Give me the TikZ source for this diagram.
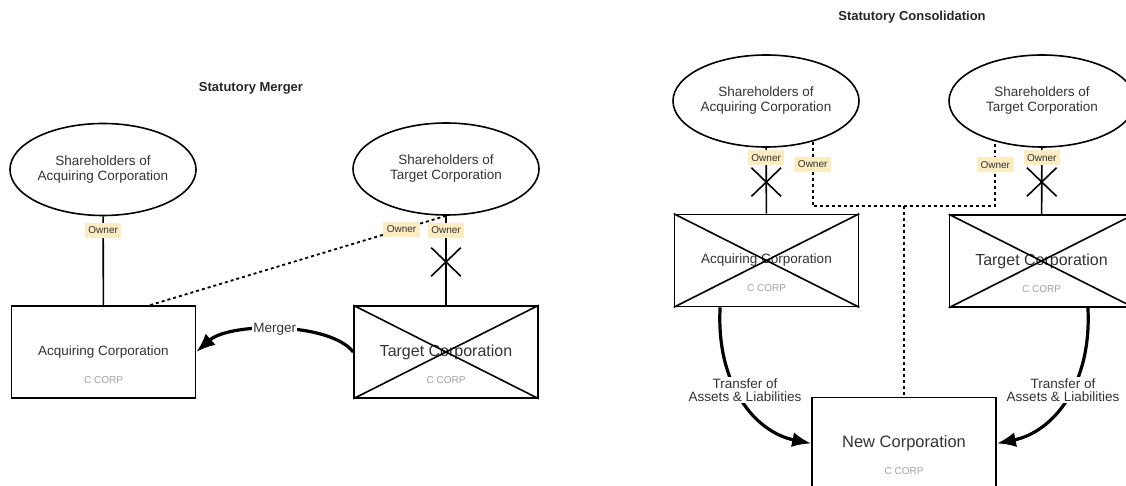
\documentclass[tikz,border=0pt]{standalone}
\usepackage{fontspec}
\setmainfont{Liberation Sans}
\usetikzlibrary{shapes.geometric,shapes.misc,arrows.meta,calc}
\definecolor{ownerbg}{RGB}{251,236,193}
\definecolor{txt}{RGB}{51,51,51}
\definecolor{ccgrey}{RGB}{160,160,160}
\begin{document}
\begin{tikzpicture}[x=1pt,y=-1pt,
  shbox/.style={ellipse, draw, line width=1.6pt, minimum width=186pt, minimum height=92pt, inner sep=0pt, align=center, text=txt, font=\fontsize{13.5}{15}\selectfont},
  corp/.style={rectangle, draw, line width=1.6pt, minimum width=184pt, minimum height=92pt, inner sep=0pt, text=txt, font=\fontsize{13.5}{15}\selectfont},
  bigname/.style={font=\fontsize{16}{18}\selectfont},
  ccorp/.style={text=ccgrey, font=\fontsize{10}{12}\selectfont, inner sep=0pt},
  owner/.style={fill=ownerbg, text=txt, font=\fontsize{10}{12}\selectfont, inner xsep=3.5pt, inner ysep=3.5pt, text height=7.5pt, text depth=0.5pt},
  own/.style={line width=1.6pt},
  dotline/.style={line width=1.8pt, dash pattern=on 3pt off 3pt},
  flow/.style={line width=3.2pt, -{Latex[length=19pt,width=15pt]}},
  flowlabel/.style={fill=white, text=txt, inner sep=1pt, align=center, font=\fontsize{13.5}{13.3}\selectfont},
  ttl/.style={font=\bfseries\fontsize{13}{15}\selectfont, text=black!85},
  xmark/.style={cross out, draw, line width=1.6pt, minimum width=28pt, minimum height=27pt, inner sep=0pt}
]
\useasboundingbox (0,0) rectangle (1126,486);
\clip (0,0) rectangle (1126,486);

% ---------------- Statutory Merger ----------------
\node[ttl] (t1) at (251,88) {Statutory Merger};
\node[shbox] (ashL) at (103,169.5) {Shareholders of\\Acquiring Corporation};
\node[shbox] (tshL) at (446,169) {Shareholders of\\Target Corporation};
\node[corp] (acqL) at (103.5,352) {Acquiring Corporation};
\node[ccorp] (ccL1) at ($(acqL.center)+(0,28)$) {C CORP};
\node[corp,bigname] (tgtL) at (446,352) {Target Corporation};
\node[ccorp] (ccL2) at ($(tgtL.center)+(0,28)$) {C CORP};
\draw[own] (tgtL.north west) -- (tgtL.south east) (tgtL.north east) -- (tgtL.south west);

\draw[own] (ashL) -- node[owner,pos=0.158]{Owner} (acqL);
\draw[own] (tshL) -- node[xmark,pos=0.516]{} node[owner,pos=0.16]{Owner} (tgtL);
\draw[dotline] (tshL.south) -- node[owner,pos=0.15]{Owner} ($(acqL.north west)!0.75!(acqL.north east)$);
\draw[flow] (tgtL.west) .. controls (330,322) and (230,322) .. (acqL.east)
  node[flowlabel,pos=0.52]{Merger};

% ---------------- Statutory Consolidation ----------------
\node[ttl] (t2) at (912,17) {Statutory Consolidation};
\node[shbox] (ashR) at (766,101) {Shareholders of\\Acquiring Corporation};
\node[shbox] (tshR) at (1042,101) {Shareholders of\\Target Corporation};
\node[corp] (acqR) at (766.5,260.5) {Acquiring Corporation};
\node[ccorp] (ccR1) at ($(acqR.center)+(0,28)$) {C CORP};
\node[corp,bigname] (tgtR) at (1041.5,261) {Target Corporation};
\node[ccorp] (ccR2) at ($(tgtR.center)+(0,28)$) {C CORP};
\draw[own] (acqR.north west) -- (acqR.south east) (acqR.north east) -- (acqR.south west);
\draw[own] (tgtR.north west) -- (tgtR.south east) (tgtR.north east) -- (tgtR.south west);
\node[corp,font=\fontsize{16.5}{18}\selectfont] (nc) at (904,443.5) {New Corporation};
\node[ccorp] (ccR3) at ($(nc.center)+(0,28)$) {C CORP};

\draw[own] (ashR) -- node[xmark,pos=0.52]{} node[owner,pos=0.148]{Owner} (acqR);
\draw[own] (tshR) -- node[xmark,pos=0.515]{} node[owner,pos=0.147]{Owner} (tgtR);

\coordinate (bus) at (904,206);
\draw[dotline] (ashR.-41) -- node[owner,pos=0.35]{Owner} (ashR.-41 |- bus) -- (bus)
  -- (bus -| tshR.-139) -- node[owner,pos=0.64]{Owner} (tshR.-139);
\draw[dotline] (bus) -- (nc.north);

\draw[flow] ($(acqR.south west)!0.25!(acqR.south east)$) .. controls (716,385) and (755,432) .. (nc.west);
\draw[flow] ($(tgtR.south west)!0.75!(tgtR.south east)$) .. controls (1092,385) and (1053,432) .. (nc.east);
\node[flowlabel] (tl1) at (745,390) {Transfer of\\Assets \& Liabilities};
\node[flowlabel] (tl2) at (1063,390) {Transfer of\\Assets \& Liabilities};
\end{tikzpicture}
\end{document}
